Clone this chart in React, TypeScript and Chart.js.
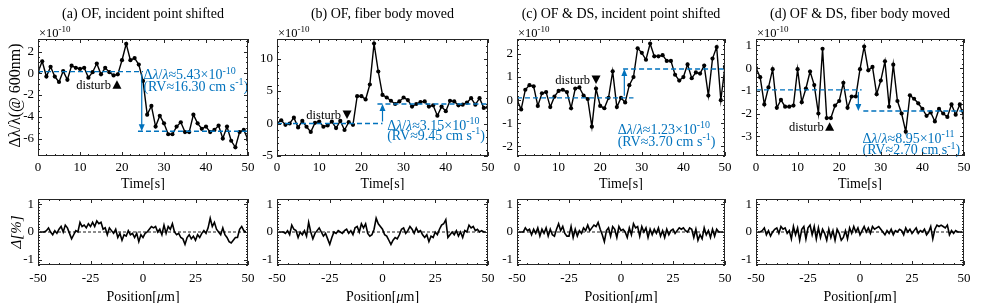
import React, { useEffect, useRef } from 'react';
import { Chart, registerables } from 'chart.js';
Chart.register(...registerables);

const FONT = '"Liberation Serif", "Times New Roman", serif';
const BLUE = '#0072BD';

// ---------- data ----------
const TIME = [0,1,2,3,4,5,6,7,8,9,10,11,12,13,14,15,16,17,18,19,20,21,22,23,24,25,26,27,28,29,30,31,32,33,34,35,36,37,38,39,40,41,42,43,44,45,46,47,48,49,50];

const A_VALUES = [0.1,1.1,-0.3,0.6,-0.3,-0.8,0.2,-0.6,0.7,0.5,0.4,0.5,-0.4,0.1,0.9,-0.1,0.5,0.1,-0.2,-0.1,1.2,2.7,1.2,1.4,0.8,-0.7,-3.8,-3.0,-4.9,-3.9,-4.6,-5.6,-5.6,-4.9,-4.5,-5.4,-5.4,-3.8,-4.6,-5.1,-4.9,-5.4,-5.2,-4.8,-6.0,-4.9,-6.2,-6.8,-5.4,-5.2,-6.1];
const B_VALUES = [0,0.5,-0.2,0,0.9,-0.6,0.4,-0.5,-1.3,0.1,0.3,-0.5,-0.3,0.3,-0.7,0.4,-1.0,0.2,-0.2,4.2,4.2,3.7,6.0,12.3,8.0,4.4,4.0,3.5,3.0,3.4,4.0,3.6,2.6,3.0,3.3,3.4,2.6,2.8,1.2,2.6,1.9,3.5,3.4,2.8,2.9,3.2,3.9,2.9,3.9,2.4,2.5];
const C_VALUES = [0,-0.4,0.45,0.65,0.6,-0.25,0.3,0.35,-0.3,0.15,0.4,0.45,0.35,-0.35,0.5,0.55,0.2,0.05,-1.15,0.5,-0.25,-0.35,0.1,1.25,-0.3,0.1,-0.1,0.65,1.0,2.25,2.05,1.75,2.45,1.9,1.9,1.95,1.7,1.7,1.1,0.85,1.0,1.55,0.95,1.2,1.15,1.5,0.2,1.8,2.3,0.0,1.45];
const D_VALUES = [0,-0.4,-1.6,-0.85,-0.05,-1.75,-1.4,-1.7,-1.7,-1.65,-0.05,-1.5,-0.9,-0.15,-0.75,-2.0,0.85,-2.2,-2.2,-1.65,-1.45,-0.65,-1.75,-1.25,-1.25,-0.05,0.95,-0.1,0.05,-1.15,-0.55,0.3,-1.7,0.15,-1.45,-2.0,-2.8,-1.2,-1.35,-1.55,-1.8,-2.1,-1.95,-2.35,-1.8,-2.0,-2.15,-1.6,-2.05,-1.6,-2.2];

const POSITION = [-49,-48,-47,-46,-45,-44,-43,-42,-41,-40,-39,-38,-37,-36,-35,-34,-33,-32,-31,-30,-29,-28,-27,-26,-25,-24,-23,-22,-21,-20,-19,-18,-17,-16,-15,-14,-13,-12,-11,-10,-9,-8,-7,-6,-5,-4,-3,-2,-1,0,1,2,3,4,5,6,7,8,9,10,11,12,13,14,15,16,17,18,19,20,21,22,23,24,25,26,27,28,29,30,31,32,33,34,35,36,37,38,39,40,41,42,43,44,45,46,47,48,49];

const A_DEV = [0,0,0,0.05,0.15,0,-0.1,0.05,-0.05,0.1,0.2,0,0.25,0.15,-0.05,-0.25,-0.1,0.05,0,0.35,0.2,0.25,0.15,0.3,0.2,0.35,0.2,0.4,0.3,0.35,0.1,0.15,-0.1,0.15,0.05,-0.05,0.1,-0.2,-0.05,-0.3,-0.1,-0.15,0.05,-0.1,-0.05,-0.2,-0.05,-0.35,-0.1,-0.2,-0.05,0,0.1,0.2,0.15,0.2,0,0.1,-0.1,0.25,-0.05,0.2,0.1,0.3,0,-0.1,-0.05,-0.2,-0.25,-0.45,-0.2,-0.1,-0.25,-0.15,-0.3,-0.1,-0.2,-0.05,0.05,-0.05,0.15,0.5,0.2,0.35,0.1,0,-0.1,0.15,-0.1,-0.2,-0.35,-0.4,-0.3,-0.2,-0.2,0.1,0.2,0.05,0];
const B_DEV = [0,0,0,-0.05,0.05,-0.1,0.25,0.1,0.05,-0.2,0,-0.1,0.05,-0.15,0.35,0,-0.25,-0.05,0.05,0.15,0,-0.15,-0.05,-0.25,-0.45,-0.2,0,-0.05,0.05,0,-0.05,0.05,0.1,-0.05,0.05,-0.1,0.15,0.2,0,0.3,0.15,0.3,-0.05,-0.15,-0.1,0.1,0.5,0.3,0.2,0.1,-0.1,-0.15,-0.3,-0.45,-0.3,-0.2,-0.25,-0.1,0.1,0.15,-0.05,0.05,0.2,0.1,-0.05,0.15,0,0.05,-0.1,-0.2,-0.1,-0.35,-0.15,-0.2,0,-0.1,0.1,0.25,0.3,0.45,-0.2,-0.1,0,-0.1,0.05,-0.15,0,-0.2,0.05,0,0.25,0.15,0.2,0.05,0.1,0,0.05,0,0];
const C_DEV = [0,0,0,0.15,0.05,0.1,-0.1,0.1,-0.05,0.15,-0.15,0.1,-0.05,0.15,-0.15,0.1,-0.1,-0.15,0.1,0.3,0.05,0.2,-0.05,-0.15,-0.15,0.2,-0.2,0.1,-0.15,0.05,-0.05,0.15,0.05,0.25,0.05,0.15,0.25,0.2,0.35,0.1,-0.1,-0.35,0.05,0.15,-0.15,0.2,0.1,-0.2,0.2,0.05,0.1,0,-0.2,0.15,-0.1,0.3,0.15,0.2,-0.15,0.2,0,0.15,-0.2,0.1,-0.1,0.1,-0.05,0.15,-0.15,0.05,-0.2,0.1,-0.1,0.05,0.1,-0.05,0.05,0.15,0.1,0.15,0.05,0,0.15,0.1,-0.2,0.1,-0.3,-0.1,-0.25,0.15,-0.1,0.05,-0.2,0.1,-0.15,0.1,0,0,0];
const D_DEV = [0,0,0.05,0.15,-0.1,0.05,-0.15,0,0.1,0.15,-0.05,0.2,0.1,0.15,-0.05,0.05,-0.25,0.2,-0.1,0.15,-0.3,0.1,0.2,-0.25,0.15,0.25,-0.1,0.2,-0.25,0.15,-0.2,0.1,-0.05,-0.3,0.1,-0.2,0.05,-0.3,0.1,-0.05,-0.3,-0.2,0.05,-0.25,0.15,-0.05,0.2,0,0.15,-0.1,0.05,0.2,0,0.15,-0.05,0.2,0.1,0.15,0.2,0.1,0,-0.1,0.05,-0.05,0.1,-0.1,0.05,0,0.1,0.05,-0.1,0.15,0,0.1,-0.05,0.05,0.15,-0.05,0.05,0,0.1,-0.1,0,0.2,-0.25,0.1,0.25,0.2,0.25,0.2,0.15,0.25,-0.1,0.05,-0.05,0.05,0,0,0];

const TIME_TICKS = [0, 10, 20, 30, 40, 50];
const POSITION_TICKS = [-50, -25, 0, 25, 50];
const A_Y_TICKS = [-6, -4, -2, 0, 2];
const B_Y_TICKS = [-5, 0, 5, 10];
const C_Y_TICKS = [-2, -1, 0, 1, 2];
const D_Y_TICKS = [-3, -2, -1, 0, 1];
const DEV_Y_TICKS = [-1, 0, 1];

const TITLES = ['(a) OF, incident point shifted', '(b) OF, fiber body moved', '(c) OF & DS, incident point shifted', '(d) OF & DS, fiber body moved'];
const SHIFTS = ['5.43\u00d710', '3.15\u00d710', '1.23\u00d710', '8.95\u00d710'];
const SHIFT_EXP = ['-10', '-10', '-10', '-11'];
const RV = ['16.30', '9.45', '3.70', '2.70'];

// levels of the blue dashed lines: [before, after]
const LEVELS = [[0.15, -5.33], [0, 3.0], [0.1, 1.35], [-0.96, -1.89]];

// ---------- types ----------
type Part = { t: string; sup?: boolean; it?: boolean };
type Spec = {
  kind: 'top' | 'bottom';
  idx: number;
  xs: number[];
  ys: number[];
  xMin: number; xMax: number; xTicks: number[]; xMinor: number;
  yMin: number; yMax: number; yTicks: number[]; yMinor: number;
  plotLeft: number; plotRight: number; plotTop: number; plotBottom: number;
  canvasTop: number; canvasHeight: number; xPad: number;
  extra?: any;
};

function drawRich(ctx: CanvasRenderingContext2D, parts: Part[], x: number, y: number, size: number, color: string, align: 'left' | 'center' | 'right') {
  const fontFor = (p: Part) => `${p.it ? 'italic ' : ''}${p.sup ? Math.round(size * 0.7) : size}px ${FONT}`;
  let w = 0;
  for (const p of parts) { ctx.font = fontFor(p); w += ctx.measureText(p.t).width; }
  let cx = align === 'center' ? x - w / 2 : align === 'right' ? x - w : x;
  ctx.textAlign = 'left';
  ctx.textBaseline = 'alphabetic';
  ctx.fillStyle = color;
  for (const p of parts) {
    ctx.font = fontFor(p);
    ctx.fillText(p.t, cx, p.sup ? y - size * 0.4 : y);
    cx += ctx.measureText(p.t).width;
  }
}

function minorValues(min: number, max: number, step: number) {
  const out: number[] = [];
  const start = Math.ceil(min / step - 1e-9);
  const end = Math.floor(max / step + 1e-9);
  for (let k = start; k <= end; k++) out.push(k * step);
  return out;
}

function makePlugin(spec: Spec) {
  return {
    id: 'frame' + spec.kind + spec.idx,
    beforeDatasetsDraw(chart: any) {
      if (spec.kind !== 'bottom') return;
      const { ctx, chartArea: a, scales } = chart;
      const y0 = scales.y.getPixelForValue(0);
      ctx.save();
      ctx.strokeStyle = '#000';
      ctx.lineWidth = 0.9;
      ctx.setLineDash([3, 2]);
      ctx.beginPath();
      ctx.moveTo(a.left, y0);
      ctx.lineTo(a.right, y0);
      ctx.stroke();
      ctx.restore();
    },
    afterDraw(chart: any) {
      const { ctx, chartArea: a, scales } = chart;
      const xs = scales.x, ys = scales.y;
      ctx.save();
      if (spec.kind === 'top') {
        const e = spec.extra;
        const [l1, l2] = LEVELS[spec.idx];
        ctx.strokeStyle = BLUE;
        ctx.fillStyle = BLUE;
        ctx.lineWidth = 1.4;
        ctx.setLineDash([5, 3]);
        ctx.beginPath();
        ctx.moveTo(xs.getPixelForValue(e.l1From), ys.getPixelForValue(l1));
        ctx.lineTo(xs.getPixelForValue(e.l1To), ys.getPixelForValue(l1));
        ctx.moveTo(xs.getPixelForValue(e.l2From), ys.getPixelForValue(l2));
        ctx.lineTo(xs.getPixelForValue(e.l2To), ys.getPixelForValue(l2));
        ctx.stroke();
        ctx.setLineDash([]);
        const ax = xs.getPixelForValue(e.arrowX);
        const ya = ys.getPixelForValue(l1);
        const yb = ys.getPixelForValue(l2);
        const dir = yb > ya ? 1 : -1;
        ctx.lineWidth = 1.2;
        ctx.beginPath();
        ctx.moveTo(ax, ya + dir * 2);
        ctx.lineTo(ax, yb - dir * 5);
        ctx.stroke();
        ctx.beginPath();
        ctx.moveTo(ax, yb);
        ctx.lineTo(ax - 3, yb - dir * 7);
        ctx.lineTo(ax + 3, yb - dir * 7);
        ctx.closePath();
        ctx.fill();
        const tx = xs.getPixelForValue(e.textX);
        const ty1 = ys.getPixelForValue(e.textY1);
        const ty2 = ys.getPixelForValue(e.textY2);
        drawRich(ctx, [{ t: '\u0394' }, { t: '\u03bb', it: true }, { t: '/' }, { t: '\u03bb', it: true }, { t: '\u2248' + SHIFTS[spec.idx] }, { t: SHIFT_EXP[spec.idx], sup: true }], tx, ty1, 14, BLUE, 'left');
        drawRich(ctx, [{ t: '(RV\u2248' + RV[spec.idx] + ' cm s' }, { t: '-1', sup: true }, { t: ')' }], tx, ty2, 14, BLUE, 'left');
        const dx = xs.getPixelForValue(e.distX);
        const dy = ys.getPixelForValue(e.distY);
        ctx.fillStyle = '#000';
        ctx.beginPath();
        if (e.distUp) {
          ctx.moveTo(dx, dy - 5);
          ctx.lineTo(dx - 4.5, dy + 3.5);
          ctx.lineTo(dx + 4.5, dy + 3.5);
        } else {
          ctx.moveTo(dx, dy + 4);
          ctx.lineTo(dx - 4.5, dy - 4.5);
          ctx.lineTo(dx + 4.5, dy - 4.5);
        }
        ctx.closePath();
        ctx.fill();
        drawRich(ctx, [{ t: 'disturb' }], dx - 6, dy + 4, 12.5, '#000', 'right');
        const cxp = (a.left + a.right) / 2;
        drawRich(ctx, [{ t: TITLES[spec.idx] }], cxp, 18, 14, '#000', 'center');
        drawRich(ctx, [{ t: '\u00d710' }, { t: '-10', sup: true }], a.left + 1, 37, 12.5, '#000', 'left');
        drawRich(ctx, [{ t: 'Time[s]' }], cxp, 188, 14, '#000', 'center');
        if (spec.idx === 0) {
          ctx.save();
          ctx.translate(14, (a.top + a.bottom) / 2 - 2);
          ctx.rotate(-Math.PI / 2);
          drawRich(ctx, [{ t: '\u0394\u03bb/\u03bb(@ 600nm)' }], 0, 5.5, 16, '#000', 'center');
          ctx.restore();
        }
      } else {
        const cxp = (a.left + a.right) / 2;
        drawRich(ctx, [{ t: 'Position[' }, { t: '\u03bc', it: true }, { t: 'm]' }], cxp, 116, 14, '#000', 'center');
        if (spec.idx === 0) {
          ctx.save();
          ctx.translate(15, (a.top + a.bottom) / 2);
          ctx.rotate(-Math.PI / 2);
          drawRich(ctx, [{ t: '\u0394[%]', it: true }], 0, 5.5, 15, '#000', 'center');
          ctx.restore();
        }
      }
      ctx.setLineDash([]);
      ctx.strokeStyle = '#262626';
      ctx.lineWidth = 1;
      ctx.strokeRect(Math.round(a.left) + 0.5, Math.round(a.top) + 0.5, Math.round(a.right - a.left) - 1, Math.round(a.bottom - a.top) - 1);
      ctx.beginPath();
      const tickX = (v: number, len: number) => {
        const px = Math.round(xs.getPixelForValue(v)) + 0.5;
        ctx.moveTo(px, a.bottom); ctx.lineTo(px, a.bottom - len);
        ctx.moveTo(px, a.top); ctx.lineTo(px, a.top + len);
      };
      const tickY = (v: number, len: number) => {
        const py = Math.round(ys.getPixelForValue(v)) + 0.5;
        ctx.moveTo(a.left, py); ctx.lineTo(a.left + len, py);
        ctx.moveTo(a.right, py); ctx.lineTo(a.right - len, py);
      };
      for (const v of minorValues(spec.xMin, spec.xMax, spec.xMinor)) tickX(v, 2);
      for (const v of spec.xTicks) tickX(v, 4);
      for (const v of minorValues(spec.yMin, spec.yMax, spec.yMinor)) tickY(v, 2);
      for (const v of spec.yTicks) tickY(v, 4);
      ctx.stroke();
      ctx.restore();
    },
  };
}

function buildConfig(spec: Spec): any {
  const canvasW = 38 + (spec.plotRight - spec.plotLeft) + 18;
  const isTop = spec.kind === 'top';
  const tickFont = { family: FONT, size: 13 };
  return {
    type: 'line',
    data: {
      datasets: [{
        data: spec.xs.map((x, i) => ({ x, y: spec.ys[i] })),
        borderColor: '#000',
        borderWidth: isTop ? 1.4 : 1.6,
        pointRadius: isTop ? 2.1 : 0,
        pointBackgroundColor: '#000',
        pointBorderWidth: 0,
        tension: 0,
        fill: false,
      }],
    },
    options: {
      animation: false,
      responsive: false,
      maintainAspectRatio: false,
      devicePixelRatio: 1,
      events: [],
      layout: { padding: { top: spec.plotTop - spec.canvasTop, right: canvasW - 38 - (spec.plotRight - spec.plotLeft), left: 0, bottom: 0 } },
      plugins: { legend: { display: false }, tooltip: { enabled: false }, title: { display: false } },
      scales: {
        x: {
          type: 'linear', min: spec.xMin, max: spec.xMax,
          afterBuildTicks: (s: any) => { s.ticks = spec.xTicks.map((v) => ({ value: v })); },
          afterFit: (s: any) => { s.height = spec.canvasTop + spec.canvasHeight - spec.plotBottom; },
          grid: { display: false, drawTicks: false },
          border: { display: false },
          ticks: { font: tickFont, color: '#000', padding: spec.xPad, maxRotation: 0, autoSkip: false, callback: (v: any) => String(v) },
        },
        y: {
          type: 'linear', min: spec.yMin, max: spec.yMax,
          afterBuildTicks: (s: any) => { s.ticks = spec.yTicks.map((v) => ({ value: v })); },
          afterFit: (s: any) => { s.width = 38; },
          grid: { display: false, drawTicks: false },
          border: { display: false },
          ticks: { font: tickFont, color: '#000', padding: 4, autoSkip: false, callback: (v: any) => String(v) },
        },
      },
    },
    plugins: [makePlugin(spec)],
  };
}

const PLOT_LEFT = [38, 277, 517, 756];
const PLOT_RIGHT = [248, 488, 725, 964];
const TOP_VALUES = [A_VALUES, B_VALUES, C_VALUES, D_VALUES];
const TOP_Y_TICKS = [A_Y_TICKS, B_Y_TICKS, C_Y_TICKS, D_Y_TICKS];
const TOP_Y_RANGE = [[-7.6, 3.15], [-5, 13], [-2.42, 2.65], [-3.87, 1.28]];
const TOP_Y_MINOR = [0.5, 1, 0.2, 0.2];
const DEV_VALUES = [A_DEV, B_DEV, C_DEV, D_DEV];

const EXTRAS = [
  { l1From: 0, l1To: 25, l2From: 23.8, l2To: 50, arrowX: 24.7, textX: 25.1, textY1: -0.55, textY2: -1.6, distX: 18.8, distY: -1.1, distUp: true },
  { l1From: 0, l1To: 25, l2From: 23.8, l2To: 50, arrowX: 25, textX: 26.1, textY1: -1.0, textY2: -2.55, distX: 16.6, distY: 1.3, distUp: false },
  { l1From: 0, l1To: 28, l2From: 25.5, l2To: 50, arrowX: 25.8, textX: 24.2, textY1: -1.45, textY2: -1.97, distX: 19, distY: 0.87, distUp: false },
  { l1From: 0, l1To: 25.4, l2From: 25.8, l2To: 50, arrowX: 24.6, textX: 25.6, textY1: -3.3, textY2: -3.8, distX: 17.7, distY: -2.6, distUp: true },
];

function makeSpecs(): Spec[] {
  const specs: Spec[] = [];
  for (let i = 0; i < 4; i++) {
    specs.push({
      kind: 'top', idx: i, xs: TIME, ys: TOP_VALUES[i],
      xMin: 0, xMax: 50, xTicks: TIME_TICKS, xMinor: 2,
      yMin: TOP_Y_RANGE[i][0], yMax: TOP_Y_RANGE[i][1], yTicks: TOP_Y_TICKS[i], yMinor: TOP_Y_MINOR[i],
      plotLeft: PLOT_LEFT[i], plotRight: PLOT_RIGHT[i], plotTop: 39, plotBottom: 156,
      canvasTop: 0, canvasHeight: 190, xPad: 4, extra: EXTRAS[i],
    });
  }
  for (let i = 0; i < 4; i++) {
    specs.push({
      kind: 'bottom', idx: i, xs: POSITION, ys: DEV_VALUES[i],
      xMin: -50, xMax: 50, xTicks: POSITION_TICKS, xMinor: 5,
      yMin: -1.2, yMax: 1.2, yTicks: DEV_Y_TICKS, yMinor: 0.1,
      plotLeft: PLOT_LEFT[i], plotRight: PLOT_RIGHT[i], plotTop: 199, plotBottom: 265,
      canvasTop: 185, canvasHeight: 118, xPad: 6,
    });
  }
  return specs;
}

const SPECS = makeSpecs();

function Panel({ spec }: { spec: Spec }) {
  const ref = useRef<HTMLCanvasElement>(null);
  const w = 38 + (spec.plotRight - spec.plotLeft) + 18;
  useEffect(() => {
    const chart = new Chart(ref.current as HTMLCanvasElement, buildConfig(spec));
    return () => chart.destroy();
  }, [spec]);
  return (
    <canvas
      ref={ref}
      width={w}
      height={spec.canvasHeight}
      style={{ position: 'absolute', left: spec.plotLeft - 38, top: spec.canvasTop, width: w, height: spec.canvasHeight }}
    />
  );
}

export default function App() {
  return (
    <div style={{ position: 'fixed', left: 0, top: 0, width: 981, height: 303, background: '#fff', overflow: 'hidden' }}>
      {SPECS.map((s) => <Panel key={s.kind + s.idx} spec={s} />)}
    </div>
  );
}
